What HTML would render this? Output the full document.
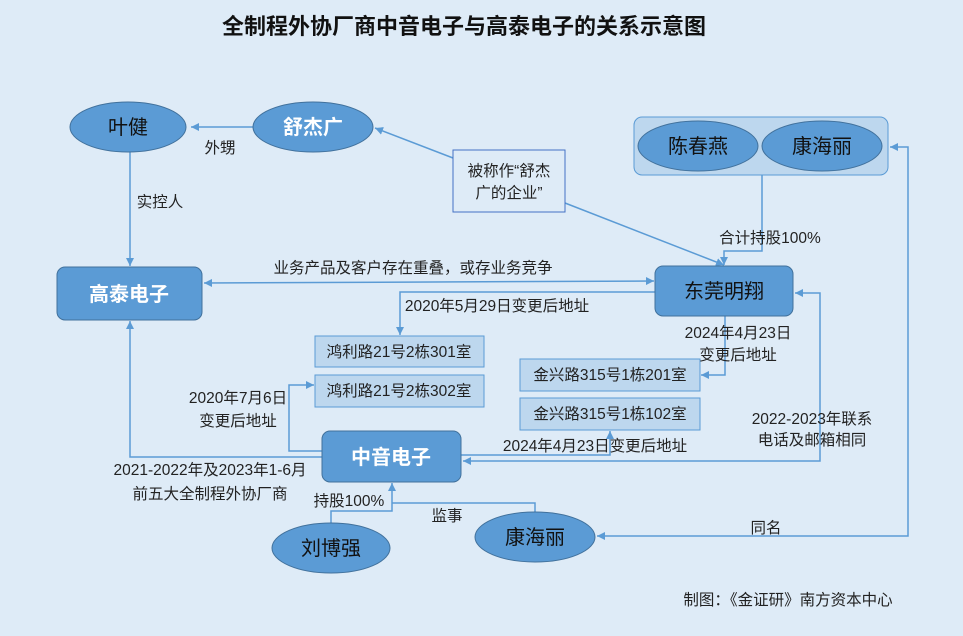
<!DOCTYPE html>
<html><head><meta charset="utf-8"><style>
html,body{margin:0;padding:0;background:#deebf7;}
svg{display:block;font-family:"Liberation Sans","Noto Sans CJK SC",sans-serif;}
.l{font-size:15.5px;fill:#222;text-anchor:middle;}
.n{font-size:20px;text-anchor:middle;}
.c{stroke:#5b9bd5;stroke-width:1.5;fill:none;}
</style></head><body>
<svg width="963" height="636" viewBox="0 0 963 636" xmlns="http://www.w3.org/2000/svg">
<defs><marker id="a" viewBox="0 0 10 10" refX="10" refY="5" markerWidth="8" markerHeight="8" orient="auto-start-reverse" markerUnits="userSpaceOnUse"><path d="M0,0L10,5L0,10z" fill="#5b9bd5"/></marker></defs>
<rect width="963" height="636" fill="#deebf7"/>
<text x="464" y="34" text-anchor="middle" font-size="22" font-weight="bold" fill="#111">全制程外协厂商中音电子与高泰电子的关系示意图</text>

<line class="c" x1="253" y1="127" x2="191" y2="127" marker-end="url(#a)"/>
<line class="c" x1="130" y1="152" x2="130" y2="266" marker-end="url(#a)"/>
<line class="c" x1="453" y1="158" x2="375" y2="128" marker-end="url(#a)"/>
<line class="c" x1="565" y1="203" x2="724" y2="265" marker-end="url(#a)"/>
<polyline class="c" points="762,175 762,251 724,251 724,265" marker-end="url(#a)"/>
<line class="c" x1="204" y1="283" x2="654" y2="281" marker-start="url(#a)" marker-end="url(#a)"/>
<polyline class="c" points="655,292 400,292 400,335" marker-end="url(#a)"/>
<polyline class="c" points="725,316 725,375 701,375" marker-end="url(#a)"/>
<polyline class="c" points="322,451 289,451 289,385 314,385" marker-end="url(#a)"/>
<polyline class="c" points="322,457 130,457 130,321" marker-end="url(#a)"/>
<polyline class="c" points="461,455 610,455 610,431" marker-end="url(#a)"/>
<polyline class="c" points="463,461 820,461 820,293 795,293" marker-start="url(#a)" marker-end="url(#a)"/>
<polyline class="c" points="331,523 331,511 392,511 392,483" marker-end="url(#a)"/>
<polyline class="c" points="535,512 535,503 392,503"/>
<polyline class="c" points="597,536 908,536 908,147 890,147" marker-start="url(#a)" marker-end="url(#a)"/>

<ellipse cx="128" cy="127" rx="58" ry="25" fill="#5b9bd5" stroke="#41719c"/>
<text class="n" x="128" y="134" fill="#111">叶健</text>
<ellipse cx="313" cy="127" rx="60" ry="25" fill="#5b9bd5" stroke="#41719c"/>
<text class="n" x="313" y="134" fill="#fff" font-weight="bold">舒杰广</text>
<rect x="453" y="150" width="112" height="62" fill="#deebf7" stroke="#4472c4"/>
<text class="l" x="509" y="176">被称作“舒杰</text>
<text class="l" x="509" y="198">广的企业”</text>
<rect x="634" y="117" width="254" height="58" rx="8" fill="#bdd7ee" stroke="#5b9bd5"/>
<ellipse cx="698" cy="146" rx="60" ry="25" fill="#5b9bd5" stroke="#41719c"/>
<text class="n" x="698" y="153" fill="#111">陈春燕</text>
<ellipse cx="822" cy="146" rx="60" ry="25" fill="#5b9bd5" stroke="#41719c"/>
<text class="n" x="822" y="153" fill="#111">康海丽</text>
<rect x="57" y="267" width="145" height="53" rx="8" fill="#5b9bd5" stroke="#41719c"/>
<text class="n" x="129" y="301" fill="#fff" font-weight="bold">高泰电子</text>
<rect x="655" y="266" width="138" height="50" rx="8" fill="#5b9bd5" stroke="#41719c"/>
<text class="n" x="724" y="298" fill="#111">东莞明翔</text>
<rect x="315" y="336" width="169" height="31" fill="#bdd7ee" stroke="#5b9bd5"/>
<text class="l" x="399" y="357">鸿利路21号2栋301室</text>
<rect x="315" y="375" width="169" height="32" fill="#bdd7ee" stroke="#5b9bd5"/>
<text class="l" x="399" y="396">鸿利路21号2栋302室</text>
<rect x="520" y="359" width="180" height="32" fill="#bdd7ee" stroke="#5b9bd5"/>
<text class="l" x="610" y="380">金兴路315号1栋201室</text>
<rect x="520" y="398" width="180" height="32" fill="#bdd7ee" stroke="#5b9bd5"/>
<text class="l" x="610" y="419">金兴路315号1栋102室</text>
<rect x="322" y="431" width="139" height="51" rx="8" fill="#5b9bd5" stroke="#41719c"/>
<text class="n" x="391" y="464" fill="#fff" font-weight="bold">中音电子</text>
<ellipse cx="331" cy="548" rx="59" ry="25" fill="#5b9bd5" stroke="#41719c"/>
<text class="n" x="331" y="555" fill="#111">刘博强</text>
<ellipse cx="535" cy="537" rx="60" ry="25" fill="#5b9bd5" stroke="#41719c"/>
<text class="n" x="535" y="544" fill="#111">康海丽</text>

<text class="l" x="220" y="153">外甥</text>
<text class="l" x="160" y="207">实控人</text>
<text class="l" x="770" y="243">合计持股100%</text>
<text class="l" x="413" y="273">业务产品及客户存在重叠，或存业务竞争</text>
<text class="l" x="497" y="311">2020年5月29日变更后地址</text>
<text class="l" x="738" y="338">2024年4月23日</text>
<text class="l" x="738" y="360">变更后地址</text>
<text class="l" x="238" y="403">2020年7月6日</text>
<text class="l" x="238" y="426">变更后地址</text>
<text class="l" x="595" y="451">2024年4月23日变更后地址</text>
<text class="l" x="812" y="424">2022-2023年联系</text>
<text class="l" x="812" y="445">电话及邮箱相同</text>
<text class="l" x="210" y="475">2021-2022年及2023年1-6月</text>
<text class="l" x="210" y="499">前五大全制程外协厂商</text>
<text class="l" x="349" y="506">持股100%</text>
<text class="l" x="447" y="521">监事</text>
<text class="l" x="766" y="533">同名</text>
<text class="l" x="788" y="605">制图：《金证研》南方资本中心</text>
</svg>
</body></html>
